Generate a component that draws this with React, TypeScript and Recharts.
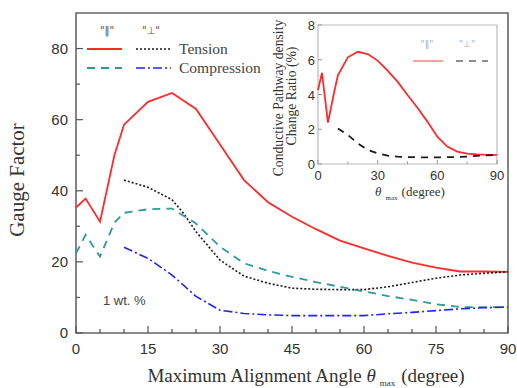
import { LineChart, Line, XAxis, YAxis, ReferenceArea } from 'recharts'

// main plot: gauge factor vs max alignment angle
const angles_par = [0, 2, 5, 8, 10, 15, 20, 25, 30, 35, 40, 45, 50, 55, 60, 65, 70, 75, 80, 85, 90]
const tension_par = [35.3, 37.8, 31.3, 50, 58.6, 65, 67.5, 63, 53, 43, 36.8, 32.7, 29.2, 26, 23.8, 21.7, 19.8, 18.4, 17.3, 17.3, 17.2]
const compression_par = [22.4, 27.6, 21.5, 31, 33.8, 34.8, 35, 30.8, 24.3, 19.6, 17.5, 15.8, 14.3, 13, 11.7, 10.4, 9.3, 8.1, 7.3, 7.3, 7.3]

const angles_perp = [10, 15, 20, 22.5, 25, 30, 35, 40, 45, 50, 55, 60, 65, 70, 75, 80, 85, 90]
const tension_perp = [43, 41, 37.5, 33.5, 28.5, 20.5, 16, 14, 12.6, 12.3, 12.2, 12.2, 13, 14.2, 15.4, 16.3, 16.8, 17.2]
const compression_perp = [24.1, 21, 16.3, 13.3, 10.3, 6.4, 5.5, 5.1, 4.9, 4.9, 4.9, 4.9, 5.4, 5.8, 6.3, 6.8, 7.1, 7.3]

const x_ticks = [0, 5, 10, 15, 20, 25, 30, 35, 40, 45, 50, 55, 60, 65, 70, 75, 80, 85, 90]
const y_ticks = [0, 10, 20, 30, 40, 50, 60, 70, 80]

// inset: conductive pathway density change ratio
const inset_angles_par = [0, 2, 5, 8, 10, 15, 20, 25, 30, 35, 40, 45, 50, 55, 60, 65, 70, 75, 80, 85, 90]
const inset_par = [4.25, 5.25, 2.38, 4.07, 5.1, 6.14, 6.46, 6.33, 5.95, 5.37, 4.74, 3.97, 3.24, 2.44, 1.57, 1.0, 0.71, 0.6, 0.55, 0.53, 0.52]
const inset_angles_perp = [10, 15, 20, 25, 30, 35, 40, 45, 50, 55, 60, 65, 70, 75, 80, 85, 90]
const inset_perp = [2.05, 1.67, 1.19, 0.81, 0.61, 0.48, 0.42, 0.4, 0.39, 0.38, 0.38, 0.39, 0.4, 0.42, 0.47, 0.5, 0.52]

const inset_x_ticks = [0, 15, 30, 45, 60, 75, 90]
const inset_y_ticks = [0, 2, 4, 6, 8]

const toPoints = (xs: number[], ys: number[]) => xs.map((x, i) => ({ x, y: ys[i] }))

const SANS = 'Liberation Sans, Arial, sans-serif'
const SERIF = 'Liberation Serif, Times New Roman, serif'
const SYMBOL = 'DejaVu Sans, sans-serif'
const RED = '#ff2b2b'
const TEAL = '#2f9a9a'
const BLUE = '#2424f0'
const BLACK = '#1a1a1a'

const MainXTick = (props: any) => {
  const { x, y, payload } = props
  const v = payload.value
  const major = v % 15 === 0
  return (
    <g>
      <line x1={x} x2={x} y1={y} y2={y - (major ? 7 : 4)} stroke="#555" strokeWidth={1.2} />
      {major && (
        <text x={x} y={y + 21} textAnchor="middle" fontSize={15} fill="#333" fontFamily={SANS}>
          {v}
        </text>
      )}
    </g>
  )
}

const MainYTick = (props: any) => {
  const { x, y, payload } = props
  const v = payload.value
  const major = v % 20 === 0
  return (
    <g>
      <line x1={x} x2={x + (major ? 7 : 4)} y1={y} y2={y} stroke="#555" strokeWidth={1.2} />
      {major && (
        <text x={x - 8} y={y + 5} textAnchor="end" fontSize={15} fill="#333" fontFamily={SANS}>
          {v}
        </text>
      )}
    </g>
  )
}

const InsetXTick = (props: any) => {
  const { x, y, payload } = props
  const v = payload.value
  const major = v % 30 === 0
  return (
    <g>
      <line x1={x} x2={x} y1={y} y2={y - (major ? 4 : 2.5)} stroke="#999" strokeWidth={1} />
      {major && (
        <text x={x} y={y + 16} textAnchor="middle" fontSize={13} fill="#333" fontFamily={SANS}>
          {v}
        </text>
      )}
    </g>
  )
}

const InsetYTick = (props: any) => {
  const { x, y, payload } = props
  return (
    <g>
      <line x1={x} x2={x + 4} y1={y} y2={y} stroke="#999" strokeWidth={1} />
      <text x={x - 3} y={y + 5} textAnchor="end" fontSize={13} fill="#333" fontFamily={SANS}>
        {payload.value}
      </text>
    </g>
  )
}

const MainLegend = () => (
  <g>
    <text x={107} y={34} textAnchor="middle" fontSize={10} fill="#555" fontFamily={SYMBOL}>"‖"</text>
    <text x={151} y={34} textAnchor="middle" fontSize={10} fill="#555" fontFamily={SYMBOL}>"⊥"</text>
    <line x1={87} x2={122} y1={49} y2={49} stroke={RED} strokeWidth={1.8} />
    <line x1={136} x2={171} y1={49} y2={49} stroke={BLACK} strokeWidth={1.6} strokeDasharray="2 2" />
    <text x={179} y={54} fontSize={15.5} fill="#444" fontFamily={SERIF}>Tension</text>
    <line x1={87} x2={122} y1={68} y2={68} stroke={TEAL} strokeWidth={1.8} strokeDasharray="8 6" />
    <line x1={136} x2={171} y1={68} y2={68} stroke={BLUE} strokeWidth={1.6} strokeDasharray="9 3 2 3" />
    <text x={179} y={73} fontSize={15.5} fill="#444" fontFamily={SERIF}>Compression</text>
    <text x={103} y={305} fontSize={13} fill="#444" fontFamily={SANS}>1 wt. %</text>
    <text transform="translate(24,180) rotate(-90)" textAnchor="middle" fontSize={21} fill="#333" fontFamily={SERIF}>
      Gauge Factor
    </text>
    <text x={306} y={382} textAnchor="middle" fontSize={19} fill="#333" fontFamily={SERIF}>
      Maximum Alignment Angle <tspan fontStyle="italic">θ</tspan>
      <tspan fontSize={9} dx={4} dy={4}>max</tspan>
      <tspan dx={6} dy={-4}>(degree)</tspan>
    </text>
  </g>
)

const InsetDecor = () => (
  <g>
    <text x={169} y={37} textAnchor="middle" fontSize={9} fill="#555" fontFamily={SYMBOL}>"‖"</text>
    <text x={209} y={37} textAnchor="middle" fontSize={9} fill="#555" fontFamily={SYMBOL}>"⊥"</text>
    <line x1={155} x2={185} y1={51} y2={51} stroke={RED} strokeWidth={1.8} />
    <line x1={198} x2={230} y1={51} y2={51} stroke={BLACK} strokeWidth={1.8} strokeDasharray="7 6" />
    <text transform="translate(25,88) rotate(-90)" textAnchor="middle" fontSize={13.7} fill="#333" fontFamily={SERIF}>
      Conductive Pathway density
    </text>
    <text transform="translate(38,86) rotate(-90)" textAnchor="middle" fontSize={13.7} fill="#333" fontFamily={SERIF}>
      Change Ratio (%)
    </text>
    <text x={152} y={186} textAnchor="middle" fontSize={13} fill="#333" fontFamily={SERIF}>
      <tspan fontStyle="italic">θ</tspan>
      <tspan fontSize={7} dx={4} dy={4}>max</tspan>
      <tspan dx={4} dy={-4}>(degree)</tspan>
    </text>
  </g>
)

export default function App() {
  return (
    <div style={{ position: 'absolute', left: 0, top: 0, width: 517, height: 388, background: '#fff' }}>
      <LineChart width={517} height={388} margin={{ top: 13, right: 9, bottom: 25, left: 36 }}>
        <XAxis
          dataKey="x"
          type="number"
          domain={[0, 90]}
          ticks={x_ticks}
          interval={0}
          height={30}
          tickSize={0}
          tickMargin={0}
          axisLine={false}
          tickLine={false}
          tick={MainXTick}
          allowDuplicatedCategory={false}
        />
        <YAxis
          dataKey="y"
          type="number"
          domain={[0, 90]}
          ticks={y_ticks}
          interval={0}
          width={40}
          tickSize={0}
          tickMargin={0}
          axisLine={false}
          tickLine={false}
          tick={MainYTick}
        />
        <ReferenceArea x1={0} x2={90} y1={0} y2={90} fill="none" stroke="#666" strokeWidth={1.6} ifOverflow="visible" />
        <Line data={toPoints(angles_par, tension_par)} dataKey="y" type="linear" stroke={RED} strokeWidth={1.8} dot={false} isAnimationActive={false} />
        <Line data={toPoints(angles_perp, tension_perp)} dataKey="y" type="linear" stroke={BLACK} strokeWidth={1.6} strokeDasharray="2 2" dot={false} isAnimationActive={false} />
        <Line data={toPoints(angles_par, compression_par)} dataKey="y" type="linear" stroke={TEAL} strokeWidth={1.8} strokeDasharray="8 6" dot={false} isAnimationActive={false} />
        <Line data={toPoints(angles_perp, compression_perp)} dataKey="y" type="linear" stroke={BLUE} strokeWidth={1.6} strokeDasharray="9 3 2 3" dot={false} isAnimationActive={false} />
        <MainLegend />
      </LineChart>
      <div style={{ position: 'absolute', left: 258, top: 10, width: 250, height: 200 }}>
        <LineChart width={250} height={200} margin={{ top: 15, right: 11, bottom: 16, left: 40 }}>
          <XAxis
            dataKey="x"
            type="number"
            domain={[0, 90]}
            ticks={inset_x_ticks}
            interval={0}
            height={30}
            tickSize={0}
            tickMargin={0}
            axisLine={false}
            tickLine={false}
            tick={InsetXTick}
            allowDuplicatedCategory={false}
          />
          <YAxis
            dataKey="y"
            type="number"
            domain={[0, 8]}
            ticks={inset_y_ticks}
            interval={0}
            width={20}
            tickSize={0}
            tickMargin={0}
            axisLine={false}
            tickLine={false}
            tick={InsetYTick}
          />
          <ReferenceArea x1={0} x2={90} y1={0} y2={8} fill="#fff" stroke="#bbb" strokeWidth={1.2} ifOverflow="visible" />
          <Line data={toPoints(inset_angles_par, inset_par)} dataKey="y" type="linear" stroke={RED} strokeWidth={1.8} dot={false} isAnimationActive={false} />
          <Line data={toPoints(inset_angles_perp, inset_perp)} dataKey="y" type="linear" stroke={BLACK} strokeWidth={1.8} strokeDasharray="7 6" dot={false} isAnimationActive={false} />
          <InsetDecor />
        </LineChart>
      </div>
    </div>
  )
}
